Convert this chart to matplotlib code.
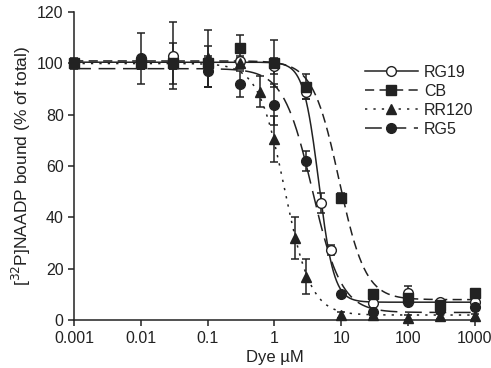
import numpy as np
import matplotlib.pyplot as plt

plt.rcParams['font.family'] = ['Liberation Sans', 'DejaVu Sans']

# dye concentrations (uM) and % bound
x_rg19 = [0.001, 0.01, 0.03, 0.1, 0.3, 1, 3, 5, 7, 30, 100, 300, 1000]
y_rg19 = [100, 100, 103, 99, 101, 99, 89, 45.6, 27.3, 6.5, 10.5, 7, 7]
e_rg19 = [1, 2, 13, 8, 2, 3, 3, 4, 2, 1, 3, 1, 1]

x_cb = [0.001, 0.01, 0.03, 0.1, 0.3, 1, 3, 10, 30, 100, 300, 1000]
y_cb = [100, 100, 100, 100, 106, 100, 91, 47.5, 10, 8.5, 6, 10.5]
e_cb = [2, 2, 2, 2, 5, 9, 5, 2, 1, 1, 1, 1]

x_rr = [0.001, 0.01, 0.03, 0.1, 0.3, 0.6, 1, 2, 3, 10, 30, 100, 300, 1000]
y_rr = [100, 100, 100, 102, 100, 89, 70.5, 32, 17, 2, 2, 1, 1.5, 1.5]
e_rr = [1, 2, 2, 11, 2, 6, 9, 8, 7, 1, 1, 1, 1, 1]

x_rg5 = [0.001, 0.01, 0.03, 0.1, 0.3, 1, 3, 10, 30, 100, 300, 1000]
y_rg5 = [100, 102, 100, 97, 92, 84, 62, 10, 3, 7, 4, 5]
e_rg5 = [1, 10, 8, 6, 5, 8, 4, 1, 1, 1, 1, 1]

# sigmoid fit parameters: top, bottom, IC50, hill slope
fit_rg19 = [100.5, 7, 4.6, 3.8]
fit_cb = [101, 8, 9.3, 2.2]
fit_rr = [100, 2, 1.42, 2.2]
fit_rg5 = [98, 3, 3.7, 2.0]

labels = ['RG19', 'CB', 'RR120', 'RG5']


def hill(x, p):
    return p[1] + (p[0] - p[1]) / (1 + (x / p[2]) ** p[3])


col = '#222222'
fig = plt.figure(figsize=(4.91, 3.68), dpi=100)
ax = fig.add_axes([0.151, 0.130, 0.816, 0.837])

xs = np.logspace(-3, 3, 500)
series = [
    (x_rg19, y_rg19, e_rg19, fit_rg19, '-', 'o', 'white'),
    (x_cb, y_cb, e_cb, fit_cb, (0, (6, 3.5)), 's', col),
    (x_rr, y_rr, e_rr, fit_rr, (0, (1.5, 4)), '^', col),
    (x_rg5, y_rg5, e_rg5, fit_rg5, (0, (11, 5)), 'o', col),
]
for (xd, yd, ed, p, ls, mk, fc), lab in zip(series, labels):
    ax.plot(xs, hill(xs, p), color=col, ls=ls, lw=1.1, zorder=2)
    ax.errorbar(xd, yd, yerr=ed, fmt='none', ecolor=col, elinewidth=1.1,
                capsize=3, capthick=1.1, zorder=3, clip_on=False)
    ax.plot(xd, yd, ls='none', marker=mk, ms=7, mfc=fc, mec=col, mew=1,
            zorder=4, clip_on=False)
    ax.plot([], [], color=col, ls=ls, lw=1.1, marker=mk, ms=7, mfc=fc,
            mec=col, mew=1, label=lab)

ax.set_xscale('log')
ax.set_xlim(0.001, 1000)
ax.set_ylim(0, 120)
ax.set_xticks([0.001, 0.01, 0.1, 1, 10, 100, 1000])
ax.set_xticklabels(['0.001', '0.01', '0.1', '1', '10', '100', '1000'])
ax.minorticks_off()
ax.set_yticks([0, 20, 40, 60, 80, 100, 120])
for s in ['top', 'right']:
    ax.spines[s].set_visible(False)
for s in ['left', 'bottom']:
    ax.spines[s].set_color(col)
    ax.spines[s].set_linewidth(1.1)
ax.tick_params(colors=col, labelsize=11.5, length=4, width=1.1)
ax.set_xlabel('Dye \u00b5M', fontsize=12, color=col, labelpad=3)
ax.set_ylabel('[$^{32}$P]NAADP bound (% of total)', fontsize=12.5, color=col,
              labelpad=3)

ax.legend(loc='upper left', bbox_to_anchor=(0.69, 0.875), frameon=False,
          fontsize=11.5, handlelength=3.3, labelspacing=0.25,
          handletextpad=0.4, labelcolor=col)

fig.savefig('out.png', dpi=100)
